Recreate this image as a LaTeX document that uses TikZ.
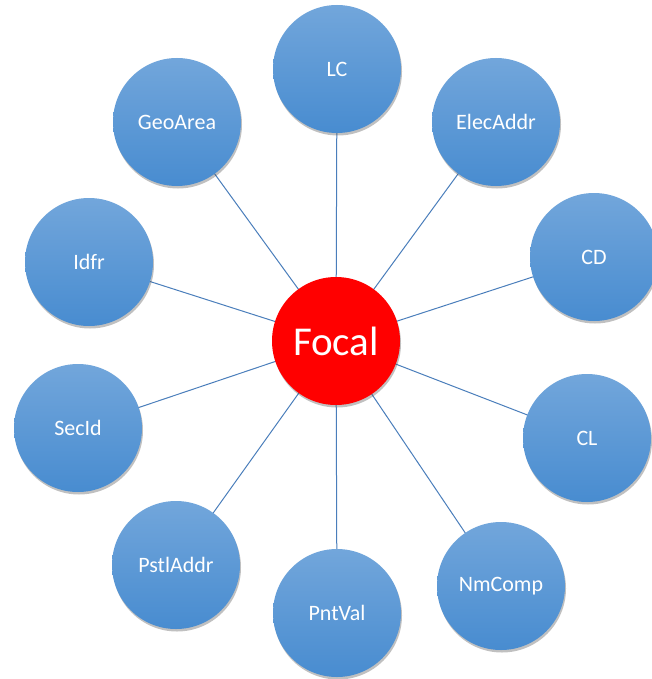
\documentclass[tikz,border=0pt]{standalone}
\usepackage{fontspec}
\setmainfont{Carlito}
\usetikzlibrary{shadows}
\definecolor{bubtop}{RGB}{114,166,219}
\definecolor{bubbot}{RGB}{72,140,208}
\definecolor{linkc}{RGB}{74,126,187}
\tikzset{
  bubble/.style={circle, minimum size=128pt, inner sep=0pt, top color=bubtop, bottom color=bubbot,
    draw=none, text=white, font=\fontsize{22}{26}\selectfont,
    drop shadow={shadow xshift=1pt, shadow yshift=-2.5pt, opacity=0.35, fill=black!70}},
  focalnode/.style={circle, minimum size=128pt, inner sep=0pt, fill=red, draw=none, text=white,
    font=\fontsize{41}{48}\selectfont,
    drop shadow={shadow xshift=1pt, shadow yshift=-2.5pt, opacity=0.35, fill=black!70}},
  link/.style={draw=linkc, line width=1pt}
}
\begin{document}
\begin{tikzpicture}[x=1pt,y=-1pt]
\useasboundingbox (0,0) rectangle (651,679);
\fill[white] (0,0) rectangle (651,679);
% centres
\coordinate (cF) at (336,341);
\coordinate (cLC) at (337,69);
\coordinate (cEA) at (496,122);
\coordinate (cCD) at (594,257);
\coordinate (cCL) at (587,438);
\coordinate (cNC) at (501,586);
\coordinate (cPV) at (337,613);
\coordinate (cPA) at (176,565);
\coordinate (cSI) at (78,428);
\coordinate (cID) at (89,262);
\coordinate (cGA) at (177,122);
% links
\foreach \c in {cLC,cEA,cCD,cCL,cNC,cPV,cPA,cSI,cID,cGA}{
  \draw[link] (cF) -- (\c);
}
% nodes
\node[bubble] (LC) at (cLC) {LC};
\node[bubble] (EA) at (cEA) {ElecAddr};
\node[bubble] (CD) at (cCD) {CD};
\node[bubble] (CL) at (cCL) {CL};
\node[bubble] (NC) at (cNC) {NmComp};
\node[bubble] (PV) at (cPV) {PntVal};
\node[bubble] (PA) at (cPA) {PstlAddr};
\node[bubble] (SI) at (cSI) {SecId};
\node[bubble] (ID) at (cID) {Idfr};
\node[bubble] (GA) at (cGA) {GeoArea};
\node[focalnode] (F) at (cF) {Focal};
\end{tikzpicture}
\end{document}
